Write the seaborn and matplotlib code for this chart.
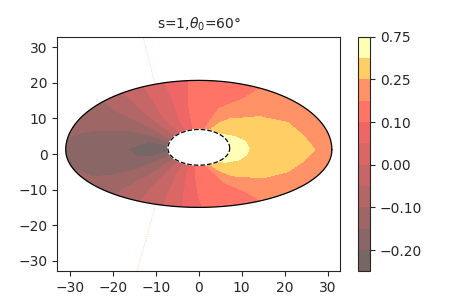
import numpy as np
import matplotlib
matplotlib.use("Agg")
import matplotlib.pyplot as plt
import seaborn as sns
from matplotlib.patches import Polygon

sns.set_style("ticks")

# contour levels and the ticks shown on the colour bar
levels = [-0.25, -0.2, -0.15, -0.1, -0.05, 0.0, 0.05, 0.1, 0.2, 0.25, 0.5, 0.75]
cbar_ticks = [-0.2, -0.1, 0.0, 0.1, 0.25, 0.75]

# sample directions around the hole (deg) and radial fraction hole -> rim
angles = list(range(0, 360, 15))
radial = [-0.05, 0.2, 0.45, 0.75, 1.06]

# field values (rows = angles, cols = radial)
field = [
    [0.74, 0.49, 0.40, 0.265, 0.21],      # 0
    [0.72, 0.47, 0.37, 0.25, 0.21],       # 15
    [0.62, 0.42, 0.32, 0.235, 0.215],     # 30
    [0.55, 0.37, 0.26, 0.225, 0.21],      # 45
    [0.35, 0.27, 0.225, 0.21, 0.205],     # 60
    [0.24, 0.21, 0.20, 0.18, 0.17],       # 75
    [0.16, 0.14, 0.14, 0.13, 0.12],       # 90
    [0.08, 0.07, 0.06, 0.05, 0.05],       # 105
    [0.03, 0.02, 0.00, -0.02, -0.03],     # 120
    [-0.03, -0.06, -0.08, -0.09, -0.10],  # 135
    [-0.08, -0.13, -0.14, -0.13, -0.12],  # 150
    [-0.17, -0.198, -0.18, -0.16, -0.14],  # 165
    [-0.22, -0.235, -0.19, -0.17, -0.16],  # 180
    [-0.18, -0.215, -0.185, -0.17, -0.15],  # 195
    [-0.12, -0.16, -0.17, -0.16, -0.14],  # 210
    [-0.06, -0.10, -0.12, -0.12, -0.12],  # 225
    [0.00, -0.03, -0.05, -0.06, -0.07],   # 240
    [0.06, 0.04, 0.02, 0.01, 0.00],       # 255
    [0.13, 0.12, 0.11, 0.10, 0.09],       # 270
    [0.22, 0.19, 0.19, 0.17, 0.17],       # 285
    [0.48, 0.28, 0.23, 0.21, 0.205],      # 300
    [0.60, 0.38, 0.27, 0.225, 0.21],      # 315
    [0.70, 0.45, 0.32, 0.235, 0.21],      # 330
    [0.73, 0.48, 0.37, 0.25, 0.21],       # 345
]

# boundary shapes: x semi-axis, y centre, upper / lower y semi-axis
inner_shape = (7.2, 1.6, 5.3, 4.75)
outer_shape = (31.0, 1.2, 19.5, 16.2)

# faint dotted guide lines outside the rim
guide_top_x = [-10.2, -13.0]
guide_top_y = [19.6, 33.0]
guide_bot_x = [-10.0, -14.4]
guide_bot_y = [-14.1, -33.0]


def shape(th, a, yc, bt, bb):
    s = np.sin(th)
    b = np.where(s >= 0, bt, bb)
    return a * np.cos(th), yc + b * s


th = np.deg2rad(np.r_[angles, 360.0])
t = np.array(radial)
vals = np.array(field)
vals = np.vstack([vals, vals[:1]])

xi, yi = shape(th, *inner_shape)
xo, yo = shape(th, *outer_shape)
X = (1 - t)[None, :] * xi[:, None] + t[None, :] * xo[:, None]
Y = (1 - t)[None, :] * yi[:, None] + t[None, :] * yo[:, None]

# hot colormap at the band midpoints, washed with white (alpha 0.6 look)
cmap = sns.color_palette("hot", as_cmap=True)
mids = [(a + b) / 2 for a, b in zip(levels[:-1], levels[1:])]
band_colors = []
for m in mids:
    c = np.array(cmap((m - levels[0]) / (levels[-1] - levels[0]))[:3])
    band_colors.append(tuple(0.6 * c + 0.4))

fig, ax = plt.subplots(figsize=(4.57, 3.05), dpi=100)
cs = ax.contourf(X, Y, vals, levels=levels, colors=band_colors)

thf = np.linspace(0, 2 * np.pi, 400)
xof, yof = shape(thf, *outer_shape)
xif, yif = shape(thf, *inner_shape)
rim = Polygon(np.c_[xof, yof], closed=True, transform=ax.transData,
              fc="none", ec="none")
ax.add_patch(rim)
cs.set_clip_path(rim)

ax.fill(xif, yif, color="white", zorder=2)
ax.plot(xof, yof, color="black", lw=0.9, zorder=3)
ax.plot(xif, yif, color="black", lw=0.9, ls="--", zorder=3)
ax.plot(guide_top_x, guide_top_y, color="salmon", lw=0.6, ls=":", alpha=0.5)
ax.plot(guide_bot_x, guide_bot_y, color="salmon", lw=0.6, ls=":", alpha=0.5)

ax.set_xlim(-33, 33)
ax.set_ylim(-33, 33)
ax.set_xticks([-30, -20, -10, 0, 10, 20, 30])
ax.set_yticks([-30, -20, -10, 0, 10, 20, 30])
ax.set_title(r"s=1,$\theta_0$=60°", fontsize=10)

cbar = fig.colorbar(cs, ticks=cbar_ticks)
cbar.ax.set_yticklabels([f"{v:.2f}".replace("-", "\u2212") for v in cbar_ticks])

fig.savefig("out.png", dpi=100)
